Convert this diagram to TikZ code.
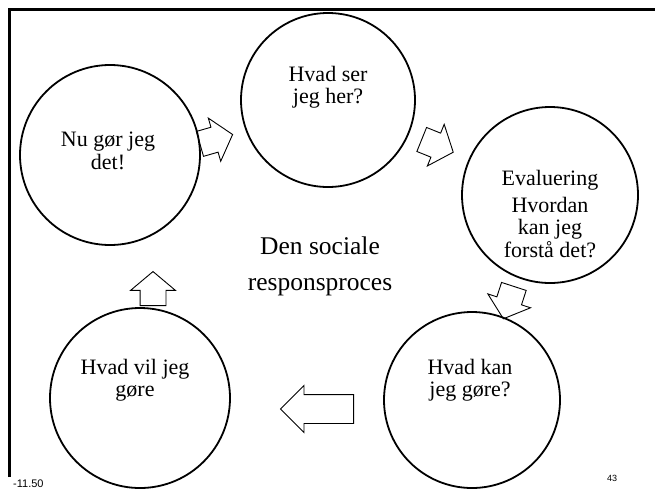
\documentclass[tikz,border=0pt]{standalone}
\usepackage{fontspec}
\setmainfont{Liberation Serif}
\newfontfamily\labelsans{Liberation Sans}
\usetikzlibrary{shapes.arrows}
\begin{document}
\begin{tikzpicture}[x=1pt,y=-1pt,
  ring/.style={draw, line width=1.8pt, circle, minimum size=#1, inner sep=0pt},
  ringtext/.style={align=center, font=\fontsize{22}{22.5}\selectfont, inner sep=0pt},
  centertext/.style={align=center, font=\fontsize{25.5}{36}\selectfont, inner sep=0pt},
  blockarrow/.style={draw, line width=0.9pt, single arrow, anchor=tail, inner xsep=0pt, inner ysep=12.5pt,
    minimum height=34pt, single arrow head extend=9.5pt,
    single arrow tip angle=100},
  bigarrow/.style={draw, line width=0.9pt, single arrow, anchor=tail, inner xsep=0pt, inner ysep=14pt,
    minimum height=73pt, single arrow head extend=9pt,
    single arrow tip angle=90},
  frameline/.style={line width=2.6pt},
  footer/.style={font=\labelsans\fontsize{#1}{#1}\selectfont, inner sep=0pt}
]
\useasboundingbox (0,0) rectangle (655,488);
% slide frame
\coordinate (fTL) at (9.5,9.5);
\coordinate (fTR) at (655,9.5);
\coordinate (fBL) at (9.5,477);
\draw[frameline] (fBL) -- (fTL) -- (fTR);

% circles
\node[ring=174pt] (see)  at (328,100) {};
\node[ring=180pt] (do)   at (110,155) {};
\node[ring=176pt] (eval) at (550,195) {};
\node[ring=176pt] (can)  at (472,400) {};
\node[ring=180pt] (will) at (140,398) {};

% texts
\node[ringtext] (tsee)  at (328,87)  {Hvad ser\\jeg her?};
\node[ringtext] (tdo)   at (108,151) {Nu gør jeg\\det!};
\node[ringtext] (teval) at (550,214) {Evaluering\\[4pt]Hvordan\\kan jeg\\forstå det?};
\node[ringtext] (tcan)  at (470,380) {Hvad kan\\jeg gøre?};
\node[ringtext] (twill) at (135,380) {Hvad vil jeg\\gøre};
\node[centertext] (tcenter) at (320,266) {Den sociale\\responsproces};

% block arrows (placed by their tails)
\node[blockarrow, rotate=16]   (a1) at (199.5,144) {};
\node[blockarrow, rotate=-22]  (a2) at (421.3,139.3) {};
\node[blockarrow, rotate=-108] (a3) at (514,286) {};
\node[bigarrow, rotate=180]    (a4) at (354,409) {};
\node[blockarrow, rotate=90]   (a5) at (153,306) {};

% footer
\node[footer=11, anchor=base west] (fl) at (13,487) {-11.50};
\node[footer=9, anchor=base west] (fr) at (607,481) {43};
\end{tikzpicture}
\end{document}
